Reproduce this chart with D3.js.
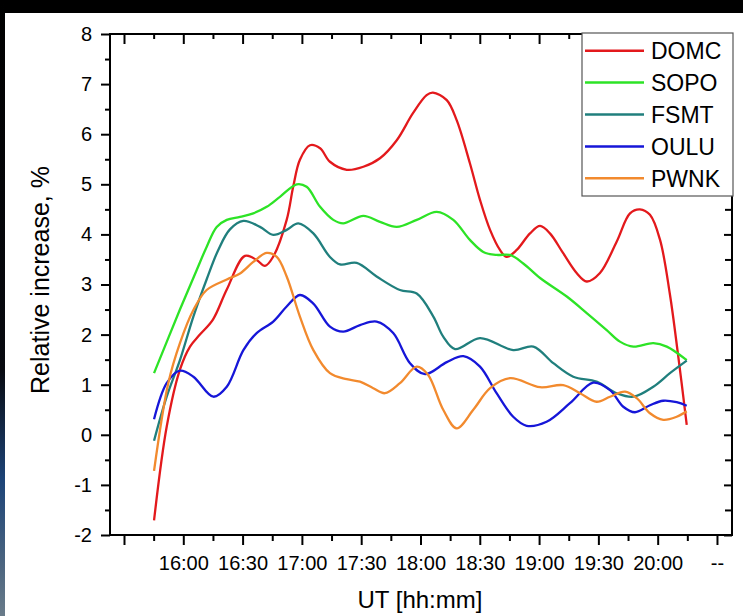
<!DOCTYPE html>
<html>
<head>
<meta charset="utf-8">
<script src="https://cdnjs.cloudflare.com/ajax/libs/d3/7.8.5/d3.min.js"></script>
<style>
    body { margin: 0; background: #fff; }
    svg text { font-family: "Liberation Sans", Arial, sans-serif; fill: #000; }
</style>
</head>
<body>
<svg id="chart" width="743" height="616"></svg>
<script>

// times are minutes after 15:00 UT, values are relative increase in %
var stations = ["DOMC", "SOPO", "FSMT", "OULU", "PWNK"];
var stationColors = ["#e3191c", "#2de326", "#207f7d", "#1616d8", "#f28a2e"];

var domcT = [45.2, 51.6, 58.3, 63.4, 68.4, 75.0, 82.0, 91.2, 97.1, 101.3, 105.4, 112.3, 115.6, 119.0, 124.1, 129.2, 134.2, 142.7, 151.1, 159.5, 168.0, 176.2, 183.1, 186.3, 193.3, 198.3, 205.0, 210.1, 215.2, 220.2, 223.6, 228.7, 235.4, 240.5, 245.5, 252.1, 259.0, 264.1, 270.8, 279.3, 286.0, 291.0, 296.1, 301.2, 306.2, 310.3, 314.7];
var domcV = [-1.71, 0.16, 1.3, 1.76, 2.0, 2.3, 2.9, 3.57, 3.49, 3.37, 3.55, 4.29, 4.95, 5.49, 5.78, 5.72, 5.45, 5.29, 5.35, 5.52, 5.88, 6.42, 6.78, 6.83, 6.68, 6.28, 5.42, 4.69, 4.09, 3.69, 3.55, 3.69, 4.02, 4.17, 4.02, 3.63, 3.23, 3.06, 3.23, 3.86, 4.42, 4.5, 4.39, 3.89, 2.8, 1.6, 0.2];

var sopoT = [45.2, 58.3, 66.8, 71.8, 76.9, 82.0, 88.7, 95.4, 102.2, 108.9, 117.4, 122.4, 129.2, 135.9, 140.9, 151.1, 159.5, 168.0, 178.1, 188.2, 196.6, 205.0, 211.8, 218.5, 225.3, 232.0, 240.5, 254.0, 264.1, 274.2, 280.9, 287.7, 297.8, 304.6, 314.7];
var sopoV = [1.23, 2.5, 3.29, 3.75, 4.15, 4.29, 4.35, 4.42, 4.55, 4.75, 5.0, 4.95, 4.55, 4.29, 4.22, 4.37, 4.25, 4.15, 4.29, 4.45, 4.29, 3.89, 3.65, 3.59, 3.59, 3.42, 3.13, 2.76, 2.43, 2.09, 1.86, 1.76, 1.83, 1.76, 1.49];

var fsmtT = [45.2, 51.6, 58.3, 65.1, 71.8, 77.7, 83.6, 90.4, 98.8, 105.5, 112.3, 118.2, 125.8, 134.2, 139.3, 147.7, 157.8, 169.6, 178.1, 186.5, 191.5, 197.5, 210.1, 226.9, 237.1, 247.2, 257.3, 269.1, 279.3, 287.7, 297.8, 306.2, 314.7];
var fsmtV = [-0.12, 0.76, 1.49, 2.36, 3.1, 3.69, 4.1, 4.27, 4.15, 3.99, 4.09, 4.22, 4.02, 3.55, 3.4, 3.43, 3.16, 2.89, 2.82, 2.36, 1.96, 1.71, 1.93, 1.69, 1.76, 1.43, 1.16, 1.06, 0.83, 0.76, 0.96, 1.23, 1.48];

var ouluT = [45.2, 51.6, 58.3, 65.1, 75.2, 82.0, 90.4, 97.1, 105.5, 112.3, 119.0, 125.8, 134.2, 140.9, 149.4, 157.8, 166.2, 174.7, 182.3, 193.3, 201.7, 210.1, 218.5, 226.9, 233.7, 243.8, 255.6, 267.4, 275.9, 282.6, 288.5, 296.1, 302.8, 309.6, 314.7];
var ouluV = [0.31, 1.03, 1.28, 1.16, 0.76, 0.96, 1.69, 2.03, 2.26, 2.56, 2.79, 2.62, 2.16, 2.06, 2.19, 2.26, 2.03, 1.43, 1.21, 1.45, 1.57, 1.36, 0.83, 0.36, 0.18, 0.26, 0.63, 1.04, 0.89, 0.56, 0.45, 0.59, 0.68, 0.65, 0.58];

var pwnkT = [45.2, 52.4, 58.3, 65.1, 71.8, 82.0, 88.7, 95.4, 102.2, 107.3, 112.3, 119.0, 125.8, 134.2, 142.7, 149.4, 156.1, 162.0, 169.6, 178.1, 183.8, 191.5, 198.3, 206.7, 215.2, 225.3, 240.5, 252.2, 260.7, 269.1, 275.9, 283.5, 289.4, 296.1, 302.8, 309.6, 314.7];
var pwnkV = [-0.72, 1.03, 1.83, 2.49, 2.89, 3.1, 3.22, 3.45, 3.63, 3.55, 3.16, 2.36, 1.69, 1.23, 1.11, 1.06, 0.93, 0.83, 1.03, 1.36, 1.2, 0.5, 0.13, 0.5, 0.93, 1.13, 0.95, 0.99, 0.83, 0.66, 0.76, 0.86, 0.73, 0.43, 0.3, 0.36, 0.47];

var xMajor = [30, 60, 90, 120, 150, 180, 210, 240, 270, 300, 330];
var xLabels = ["", "16:00", "16:30", "17:00", "17:30", "18:00", "18:30", "19:00", "19:30", "20:00", "--"];
var xMinor = [45, 75, 105, 135, 165, 195, 225, 255, 285, 315];
var yMajor = [-2, -1, 0, 1, 2, 3, 4, 5, 6, 7, 8];
var yLabels = ["-2", "-1", "0", "1", "2", "3", "4", "5", "6", "7", "8"];
var yMinor = [-1.5, -0.5, 0.5, 1.5, 2.5, 3.5, 4.5, 5.5, 6.5, 7.5];

var seriesT = [domcT, sopoT, fsmtT, ouluT, pwnkT];
var seriesV = [domcV, sopoV, fsmtV, ouluV, pwnkV];

var L = 110, R = 732, T = 34, B = 535;

var svg = d3.select("#chart");

// photo border: dark band on top and a strip on the left
var defs = svg.append("defs");
var grad = defs.append("linearGradient").attr("id", "edge").attr("x1", 0).attr("y1", 0).attr("x2", 0).attr("y2", 1);
grad.append("stop").attr("offset", "0").attr("stop-color", "#000");
grad.append("stop").attr("offset", "0.6").attr("stop-color", "#080a10");
grad.append("stop").attr("offset", "0.78").attr("stop-color", "#1d4478");
grad.append("stop").attr("offset", "0.92").attr("stop-color", "#4d6680");
grad.append("stop").attr("offset", "1").attr("stop-color", "#6a7c8a");
svg.append("rect").attr("x", 0).attr("y", 0).attr("width", 743).attr("height", 13).attr("fill", "#000");
svg.append("rect").attr("x", 0).attr("y", 0).attr("width", 5).attr("height", 616).attr("fill", "url(#edge)");

var x = d3.scaleLinear().domain([22.92, 337.6]).range([L, R]);
var y = d3.scaleLinear().domain([-2, 8]).range([B, T]);

function styleAxis(g) {
    g.select(".domain").remove();
    g.selectAll(".tick line").attr("stroke", "#000").attr("stroke-width", 2);
    g.selectAll("text").attr("font-size", 20).attr("fill", "#000");
}

// bottom
svg.append("g").attr("transform", "translate(0," + B + ")")
    .call(d3.axisBottom(x).tickValues(xMajor).tickSize(10).tickPadding(11)
        .tickFormat(function (d, i) { return xLabels[i]; }))
    .call(styleAxis);
svg.append("g").attr("transform", "translate(0," + B + ")")
    .call(d3.axisBottom(x).tickValues(xMinor).tickSize(6).tickFormat(""))
    .call(styleAxis);
// top (ticks inside)
svg.append("g").attr("transform", "translate(0," + T + ")")
    .call(d3.axisTop(x).tickValues(xMajor).tickSize(-10).tickFormat(""))
    .call(styleAxis);
svg.append("g").attr("transform", "translate(0," + T + ")")
    .call(d3.axisTop(x).tickValues(xMinor).tickSize(-5).tickFormat(""))
    .call(styleAxis);
// left
svg.append("g").attr("transform", "translate(" + L + ",0)")
    .call(d3.axisLeft(y).tickValues(yMajor).tickSize(9).tickPadding(9)
        .tickFormat(function (d, i) { return yLabels[i]; }))
    .call(styleAxis);
svg.append("g").attr("transform", "translate(" + L + ",0)")
    .call(d3.axisLeft(y).tickValues(yMinor).tickSize(5).tickFormat(""))
    .call(styleAxis);
// right (ticks inside)
svg.append("g").attr("transform", "translate(" + R + ",0)")
    .call(d3.axisRight(y).tickValues(yMajor).tickSize(-8).tickFormat(""))
    .call(styleAxis);
svg.append("g").attr("transform", "translate(" + R + ",0)")
    .call(d3.axisRight(y).tickValues(yMinor).tickSize(-7).tickFormat(""))
    .call(styleAxis);

svg.append("rect").attr("x", L).attr("y", T).attr("width", R - L).attr("height", B - T)
    .attr("fill", "none").attr("stroke", "#000").attr("stroke-width", 2);

// curves
var line = d3.line()
    .x(function (d) { return x(d.t); })
    .y(function (d) { return y(d.v); })
    .curve(d3.curveCatmullRom.alpha(0.5));

stations.forEach(function (name, k) {
    var pts = seriesT[k].map(function (t, i) { return { t: t, v: seriesV[k][i] }; });
    svg.append("path").datum(pts)
        .attr("d", line)
        .attr("fill", "none")
        .attr("stroke", stationColors[k])
        .attr("stroke-width", 2.3)
        .attr("stroke-linejoin", "round");
});

// axis titles
svg.append("text").attr("x", 420).attr("y", 608).attr("text-anchor", "middle")
    .attr("font-size", 24).text("UT [hh:mm]");
svg.append("text").attr("transform", "translate(49,280) rotate(-90)").attr("text-anchor", "middle")
    .attr("font-size", 25).text("Relative increase, %");

// legend
var leg = svg.append("g");
leg.append("rect").attr("x", 582).attr("y", 33).attr("width", 151).attr("height", 163)
    .attr("fill", "#fff").attr("stroke", "#555").attr("stroke-width", 1.2);
stations.forEach(function (name, k) {
    var ly = 50.7 + k * 31.9;
    leg.append("line").attr("x1", 585).attr("x2", 644).attr("y1", ly).attr("y2", ly)
        .attr("stroke", stationColors[k]).attr("stroke-width", 2.5);
    leg.append("text").attr("x", 651).attr("y", ly).attr("dy", "0.36em")
        .attr("font-size", 23).text(name);
});

</script>
</body>
</html>
